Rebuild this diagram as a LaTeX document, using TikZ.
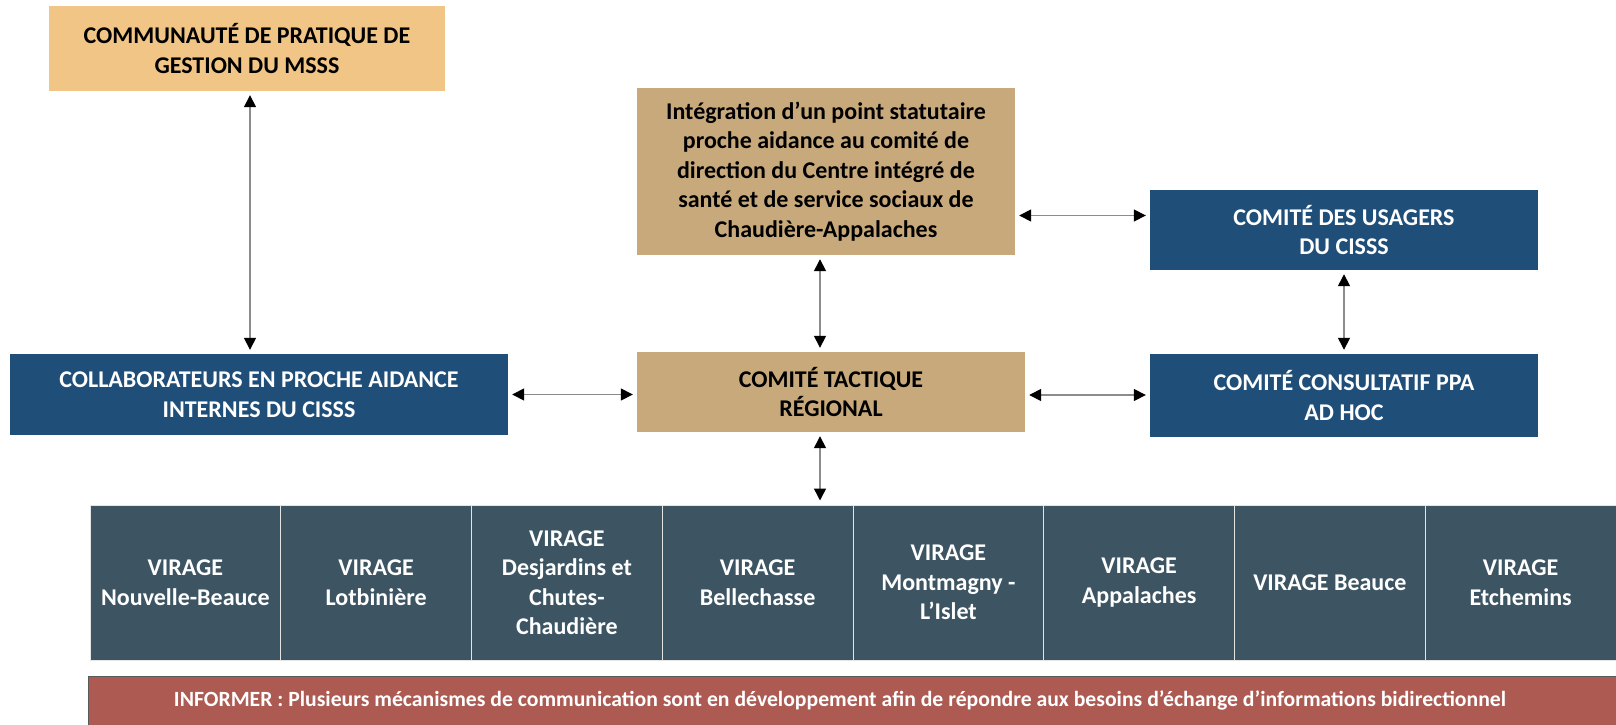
\documentclass[tikz,border=0pt]{standalone}
\usepackage{fontspec}
\setmainfont{Carlito}
\usetikzlibrary{arrows.meta}

\definecolor{msssorange}{HTML}{F1C585}
\definecolor{comitetan}{HTML}{C8A97B}
\definecolor{cisssblue}{HTML}{1F4E79}
\definecolor{virageslate}{HTML}{3D5563}
\definecolor{informred}{HTML}{AC5A52}

\tikzset{
    box/.style={rectangle, inner sep=0pt, align=center,
        font=\fontsize{24}{29.5}\selectfont\bfseries},
    tanbox/.style={box, fill=comitetan, text=black},
    bluebox/.style={box, fill=cisssblue, text=white},
    cell/.style={box, fill=virageslate, text=white, draw=white!80!gray,
        line width=1pt, minimum width=190.75pt, minimum height=155pt},
    link/.style={{Triangle[width=12pt,length=12pt,color=black]}-{Triangle[width=12pt,length=12pt,color=black]},
        draw=black!45, line width=1.5pt, shorten <=4pt, shorten >=4pt}
}

\begin{document}
\begin{tikzpicture}[x=1pt,y=-1pt]
    \useasboundingbox (0,0) rectangle (1616,725);

    % top row
    \node[box, fill=msssorange, minimum width=396pt, minimum height=85pt] (msss)
        at (247,48.5) {COMMUNAUTÉ DE PRATIQUE DE\\GESTION DU MSSS};
    \node[tanbox, minimum width=378pt, minimum height=167pt] (integ)
        at (826,171.5) {Intégration d’un point statutaire\\proche aidance au comité de\\direction du Centre intégré de\\santé et de service sociaux de\\Chaudière-Appalaches};
    \node[bluebox, minimum width=388pt, minimum height=80pt] (usagers)
        at (1344,230) {COMITÉ DES USAGERS\\DU CISSS};

    % middle row
    \node[bluebox, minimum width=498pt, minimum height=81pt] (collab)
        at (259,394.5) {COLLABORATEURS EN PROCHE AIDANCE\\INTERNES DU CISSS};
    \node[tanbox, minimum width=388pt, minimum height=80pt] (tactique)
        at (831,392) {COMITÉ TACTIQUE\\RÉGIONAL};
    \node[bluebox, minimum width=388pt, minimum height=83pt] (consult)
        at (1344,395.5) {COMITÉ CONSULTATIF PPA\\AD HOC};

    % virage table
    \foreach \txt [count=\i] in {{VIRAGE\\Nouvelle-Beauce}, {VIRAGE\\Lotbinière},
        {VIRAGE\\Desjardins et\\Chutes-\\Chaudière}, {VIRAGE\\Bellechasse},
        {VIRAGE\\Montmagny -\\L’Islet}, {VIRAGE\\Appalaches}, {VIRAGE Beauce},
        {VIRAGE\\Etchemins}}
        \node[cell] (v\i) at ({90+190.75*(\i-0.5)},582.5) {\txt};

    \node[box, fill=informred, text=white, draw=black!65, line width=1pt,
        minimum width=1528pt, minimum height=49pt,
        font=\fontsize{21.7}{26}\selectfont\bfseries] (informer)
        at (852,700.5) {\hspace*{-24pt}INFORMER : Plusieurs mécanismes de communication sont en développement afin de répondre aux besoins d’échange d’informations bidirectionnel};

    % links
    \draw[link] ([xshift=3pt]msss.south) -- ([xshift=3pt]msss.south |- collab.north);
    \draw[link] ([yshift=-44pt]integ.east) -- ([yshift=-44pt]integ.east -| usagers.west);
    \draw[link] ([xshift=-6pt]integ.south) -- ([xshift=-6pt]integ.south |- tactique.north);
    \draw[link] (usagers.south) -- (consult.north);
    \draw[link] (collab.east) -- (collab.east -| tactique.west);
    \draw[link] ([yshift=-3pt]tactique.east) -- ([yshift=-3pt]tactique.east -| consult.west);
    \draw[link] ([xshift=-11pt]tactique.south) -- ([xshift=-11pt]tactique.south |- v4.north);
\end{tikzpicture}
\end{document}
